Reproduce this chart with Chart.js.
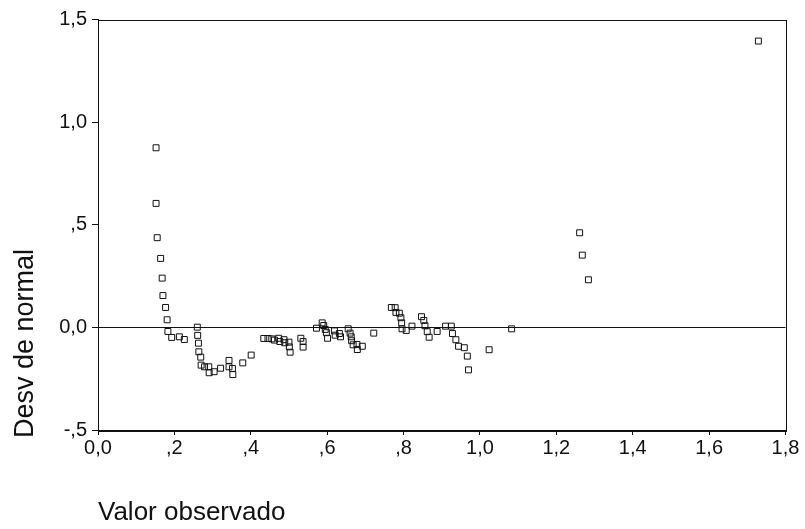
<!DOCTYPE html>
<html>
<head>
<meta charset="utf-8">
<script src="https://cdn.jsdelivr.net/npm/chart.js@4/dist/chart.umd.min.js"></script>
<style>
  html, body { margin: 0; padding: 0; background: #fff; }
  #wrap { width: 805px; height: 529px; position: relative; }
</style>
</head>
<body>
<div id="wrap"><canvas id="c" width="805" height="529"></canvas></div>
<script>
// Observed values (x) and their deviation from normal (y)
const observedValues = [
  0.152, 0.152, 0.155, 0.164, 0.168, 0.170, 0.177, 0.181, 0.183, 0.193,
  0.213, 0.226, 0.260, 0.261, 0.263, 0.264, 0.269, 0.270, 0.279, 0.290,
  0.291, 0.304, 0.321, 0.343, 0.343, 0.352, 0.353, 0.379, 0.401,
  0.434, 0.445, 0.455, 0.462, 0.473, 0.476, 0.487, 0.489, 0.500, 0.501,
  0.503, 0.531, 0.537, 0.537, 0.572, 0.587, 0.591, 0.595, 0.598, 0.601,
  0.619, 0.621, 0.632, 0.635, 0.655, 0.660, 0.663, 0.664, 0.668, 0.678,
  0.679, 0.692, 0.722,
  0.768, 0.778, 0.780, 0.789, 0.793, 0.795, 0.796, 0.807, 0.822, 0.847,
  0.853, 0.856, 0.862, 0.867, 0.888, 0.910, 0.925, 0.928, 0.937, 0.944,
  0.959, 0.967, 0.970, 1.024, 1.083,
  1.261, 1.268, 1.284, 1.729
];
const deviationValues = [
  0.875, 0.604, 0.437, 0.336, 0.240, 0.155, 0.097, 0.037, -0.020, -0.049,
  -0.046, -0.059, 0.001, -0.039, -0.077, -0.119, -0.145, -0.184, -0.192, -0.192,
  -0.221, -0.216, -0.199, -0.161, -0.192, -0.200, -0.230, -0.173, -0.135,
  -0.054, -0.054, -0.056, -0.062, -0.053, -0.069, -0.060, -0.075, -0.072, -0.095,
  -0.121, -0.053, -0.069, -0.096, -0.004, 0.022, 0.009, -0.010, -0.026, -0.053,
  -0.017, -0.038, -0.030, -0.046, -0.007, -0.028, -0.046, -0.065, -0.085, -0.083,
  -0.108, -0.092, -0.028,
  0.097, 0.096, 0.073, 0.069, 0.047, 0.022, -0.007, -0.015, 0.006, 0.052,
  0.034, 0.008, -0.021, -0.048, -0.020, 0.006, 0.006, -0.030, -0.060, -0.092,
  -0.099, -0.140, -0.207, -0.109, -0.007,
  0.461, 0.352, 0.232, 1.395
];

// Axis tick labels (decimal comma, leading zero dropped)
const xTickLabels = ['0,0', ',2', ',4', ',6', ',8', '1,0', '1,2', '1,4', '1,6', '1,8'];
const yTickLabels = ['-,5', '0,0', ',5', '1,0', '1,5'];

const xTitle = 'Valor observado';
const yTitle = 'Desv de normal';

const points = observedValues.map((x, i) => ({ x: x, y: deviationValues[i] }));

const fontFamily = '"Liberation Sans", Arial, sans-serif';

// Closed frame around the plotting area, plus the vertical axis title
const framePlugin = {
  id: 'frame',
  afterDraw(chart) {
    const { ctx, chartArea: a } = chart;
    ctx.save();
    ctx.strokeStyle = '#111';
    ctx.lineWidth = 1;
    ctx.strokeRect(Math.round(a.left) + 0.5, Math.round(a.top) + 0.5,
                   Math.round(a.right - a.left), Math.round(a.bottom - a.top));
    ctx.restore();

    ctx.save();
    ctx.fillStyle = '#111';
    ctx.font = '27px ' + fontFamily;
    ctx.textAlign = 'left';
    ctx.textBaseline = 'alphabetic';
    ctx.translate(33, a.bottom + 8);
    ctx.rotate(-Math.PI / 2);
    ctx.fillText(yTitle, 0, 0);
    ctx.restore();
  }
};

const tickFont = { family: fontFamily, size: 20 };

new Chart(document.getElementById('c'), {
  type: 'scatter',
  data: {
    datasets: [{
      data: points,
      pointStyle: 'rect',
      pointRadius: 4.2,
      pointHoverRadius: 4.2,
      borderColor: '#111',
      backgroundColor: 'rgba(0,0,0,0)',
      borderWidth: 1
    }]
  },
  options: {
    responsive: false,
    animation: false,
    events: [],
    layout: { padding: { top: 19.5, right: 19.5, left: 0, bottom: 0 } },
    plugins: { legend: { display: false }, tooltip: { enabled: false } },
    scales: {
      x: {
        type: 'linear',
        min: 0, max: 1.8,
        afterFit(scale) { scale.height = 99; },
        ticks: {
          stepSize: 0.2,
          color: '#111',
          font: tickFont,
          padding: 1,
          maxRotation: 0,
          autoSkip: false,
          callback: (v, i) => xTickLabels[i]
        },
        grid: {
          color: 'rgba(0,0,0,0)',
          tickColor: '#111',
          tickLength: 5,
          drawTicks: true
        },
        border: { display: true, color: '#111', width: 1 },
        title: {
          display: true,
          text: xTitle,
          align: 'start',
          color: '#111',
          font: { family: fontFamily, size: 26 },
          padding: { top: 0, bottom: 1 }
        }
      },
      y: {
        type: 'linear',
        min: -0.5, max: 1.5,
        afterFit(scale) { scale.width = 98; },
        ticks: {
          stepSize: 0.5,
          color: '#111',
          font: tickFont,
          padding: 5,
          autoSkip: false,
          callback: (v, i) => yTickLabels[i]
        },
        grid: {
          color: ctx => (ctx.tick && ctx.tick.value === 0) ? '#111' : 'rgba(0,0,0,0)',
          tickColor: '#111',
          tickLength: 6,
          drawTicks: true
        },
        border: { display: true, color: '#111', width: 1 },
        title: { display: false }
      }
    }
  },
  plugins: [framePlugin]
});
</script>
</body>
</html>
